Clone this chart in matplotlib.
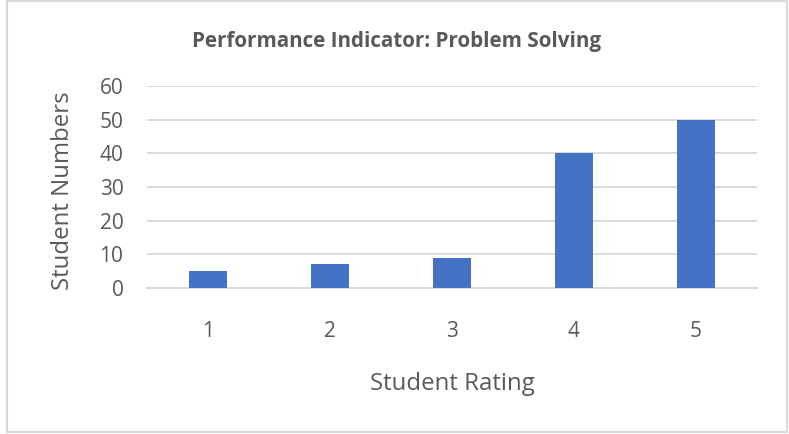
import matplotlib.pyplot as plt
from matplotlib.patches import Rectangle

ratings = ["1", "2", "3", "4", "5"]
counts = [5, 7, 9, 40, 50]
yticks = [0, 10, 20, 30, 40, 50, 60]

bar_color = "#4472c4"
text_color = "#595959"
grid_color = "#d9d9d9"

fig = plt.figure(figsize=(7.89, 4.34), dpi=100)
ax = fig.add_axes([0.1863, 0.3364, 0.7731, 0.4654])

x = range(len(ratings))
ax.bar(x, counts, width=0.31, color=bar_color, zorder=3)

ax.set_xlim(-0.5, len(ratings) - 0.5)
ax.set_ylim(0, 60)
ax.set_yticks(yticks)
ax.set_xticks(list(x))
ax.set_xticklabels(ratings)
ax.yaxis.grid(True, color=grid_color, linewidth=1.3, zorder=0)
ax.set_axisbelow(True)
for s in ["top", "right", "left"]:
    ax.spines[s].set_visible(False)
ax.spines["bottom"].set_color(grid_color)
ax.spines["bottom"].set_linewidth(1.3)
ax.tick_params(axis="both", length=0, colors=text_color, labelsize=15)
ax.tick_params(axis="y", pad=17)
ax.tick_params(axis="x", pad=24)
for lab in ax.get_xticklabels() + ax.get_yticklabels():
    lab.set_fontfamily("Open Sans")

ax.set_xlabel("Student Rating", fontsize=17.3, color=text_color, family="Open Sans", labelpad=21)
ax.set_ylabel("Student Numbers", fontsize=17.3, color=text_color, family="Open Sans")
ax.yaxis.set_label_coords(-0.118, 0.48)

fig.text(0.503, 0.905, "Performance Indicator: Problem Solving", ha="center", va="center",
         fontsize=14.9, fontweight="bold", color=text_color, family="Open Sans")

# outer chart border
fig.patches.append(Rectangle((0.009, 0.005), 0.988, 0.992, transform=fig.transFigure,
                             fill=False, edgecolor=grid_color, linewidth=1.5))

fig.savefig("out.png", dpi=100)
